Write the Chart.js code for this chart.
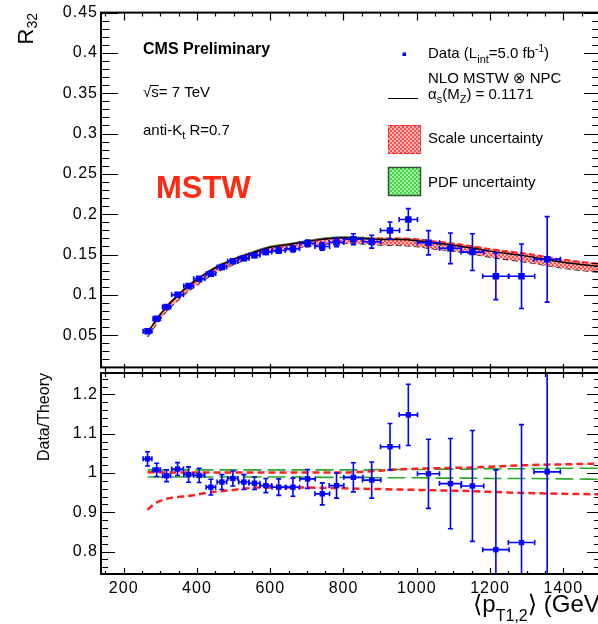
<!DOCTYPE html>
<html>
<head>
<meta charset="utf-8">
<script src="https://cdn.jsdelivr.net/npm/chart.js"></script>
<style>
  html, body { margin: 0; padding: 0; background: #fff; overflow: hidden; width: 598px; height: 624px; }
  canvas { position: absolute; left: 0; }
  #top { top: 0; }
  #bottom { top: 360px; }
</style>
</head>
<body>
<canvas id="top" width="606" height="380"></canvas>
<canvas id="bottom" width="606" height="264"></canvas>
<script>
// Measured R32 points: bin centre, half bin width, value and error
var ptMean = [265, 290, 317, 347, 377, 406, 438, 468, 498, 528, 557, 588, 623, 662, 702, 742, 781, 827, 877, 927, 977, 1032, 1092, 1152, 1216, 1286, 1356];
var ptHalfBin = [12, 10, 11, 16, 13, 15, 13, 13, 14, 14, 15, 16, 18, 18, 21, 20, 20, 26, 25, 26, 25, 30, 30, 31, 36, 36, 36];
var r32 = [0.0549, 0.0704, 0.0850, 0.1000, 0.1110, 0.1200, 0.1260, 0.1345, 0.1415, 0.1455, 0.1490, 0.1530, 0.1550, 0.1570, 0.1638, 0.1600, 0.1650, 0.1690, 0.1659, 0.1797, 0.1935, 0.1646, 0.1577, 0.1530, 0.1230, 0.1230, 0.1440];
var r32Err = [0.0010, 0.0012, 0.0013, 0.0016, 0.0022, 0.0022, 0.0025, 0.0026, 0.0027, 0.0028, 0.0025, 0.0028, 0.0033, 0.0037, 0.0040, 0.0047, 0.0053, 0.0067, 0.0080, 0.0106, 0.0134, 0.0150, 0.0190, 0.0228, 0.0290, 0.0400, 0.0530];
var ratio = [1.036, 1.008, 0.993, 1.010, 0.996, 0.994, 0.964, 0.977, 0.986, 0.977, 0.974, 0.968, 0.964, 0.964, 0.985, 0.947, 0.968, 0.989, 0.982, 1.067, 1.148, 0.998, 0.973, 0.967, 0.805, 0.823, 1.003];
var ratioErr = [0.018, 0.017, 0.015, 0.0165, 0.0195, 0.018, 0.020, 0.019, 0.019, 0.019, 0.016, 0.018, 0.021, 0.023, 0.024, 0.028, 0.032, 0.037, 0.046, 0.059, 0.078, 0.088, 0.115, 0.141, 0.203, 0.300, 0.360];

// NLO MSTW x NPC prediction with scale and PDF bands
var curvePt = [265, 280, 300, 320, 340, 360, 380, 400, 430, 460, 500, 550, 600, 650, 700, 750, 800, 850, 900, 950, 1000, 1050, 1100, 1150, 1200, 1300, 1400, 1503];
var nloCentral = [0.0530, 0.0631, 0.0757, 0.0869, 0.0959, 0.1044, 0.1124, 0.1188, 0.1282, 0.1358, 0.1439, 0.1520, 0.1590, 0.1623, 0.1661, 0.1693, 0.1707, 0.1700, 0.1687, 0.1685, 0.1671, 0.1641, 0.1616, 0.1582, 0.1542, 0.1480, 0.1405, 0.1350];
var scaleUp = [0.0531, 0.0632, 0.0759, 0.0870, 0.0960, 0.1045, 0.1125, 0.1189, 0.1283, 0.1359, 0.1440, 0.1522, 0.1592, 0.1625, 0.1663, 0.1695, 0.1709, 0.1705, 0.1697, 0.1700, 0.1689, 0.1661, 0.1637, 0.1604, 0.1567, 0.1510, 0.1436, 0.1382];
var scaleDown = [0.0480, 0.0580, 0.0703, 0.0813, 0.0900, 0.0981, 0.1059, 0.1123, 0.1218, 0.1294, 0.1377, 0.1462, 0.1531, 0.1563, 0.1600, 0.1629, 0.1640, 0.1632, 0.1618, 0.1614, 0.1599, 0.1569, 0.1543, 0.1509, 0.1468, 0.1405, 0.1331, 0.1277];
var pdfUp = [0.0534, 0.0636, 0.0763, 0.0876, 0.0967, 0.1052, 0.1133, 0.1198, 0.1292, 0.1369, 0.1451, 0.1532, 0.1603, 0.1636, 0.1674, 0.1707, 0.1721, 0.1714, 0.1702, 0.1700, 0.1686, 0.1657, 0.1632, 0.1598, 0.1559, 0.1496, 0.1422, 0.1366];
var pdfDown = [0.0525, 0.0625, 0.0749, 0.0860, 0.0949, 0.1034, 0.1113, 0.1176, 0.1269, 0.1344, 0.1425, 0.1505, 0.1574, 0.1607, 0.1644, 0.1674, 0.1688, 0.1681, 0.1667, 0.1665, 0.1651, 0.1620, 0.1595, 0.1561, 0.1520, 0.1459, 0.1384, 0.1328];

// the same bands relative to the central prediction
var scaleUpRatio = [1.002, 1.002, 1.002, 1.001, 1.001, 1.001, 1.001, 1.001, 1.001, 1.001, 1.001, 1.001, 1.001, 1.001, 1.001, 1.001, 1.001, 1.003, 1.006, 1.009, 1.011, 1.012, 1.013, 1.014, 1.016, 1.020, 1.022, 1.024];
var scaleDownRatio = [0.906, 0.919, 0.929, 0.935, 0.938, 0.940, 0.942, 0.945, 0.950, 0.953, 0.957, 0.962, 0.963, 0.963, 0.963, 0.962, 0.961, 0.960, 0.959, 0.958, 0.957, 0.956, 0.955, 0.954, 0.952, 0.949, 0.947, 0.946];
var pdfUpRatio = [1.008, 1.008, 1.008, 1.008, 1.008, 1.008, 1.008, 1.008, 1.008, 1.008, 1.008, 1.008, 1.008, 1.008, 1.008, 1.008, 1.008, 1.008, 1.009, 1.009, 1.009, 1.010, 1.010, 1.010, 1.011, 1.011, 1.012, 1.012];
var pdfDownRatio = [0.990, 0.990, 0.990, 0.990, 0.990, 0.990, 0.990, 0.990, 0.990, 0.990, 0.990, 0.990, 0.990, 0.990, 0.990, 0.989, 0.989, 0.989, 0.988, 0.988, 0.988, 0.987, 0.987, 0.987, 0.986, 0.986, 0.985, 0.984];

// axis labels
var xTicks = [200, 400, 600, 800, 1000, 1200, 1400];
var yTicksTop = [0.05, 0.1, 0.15, 0.2, 0.25, 0.3, 0.35, 0.4, 0.45];
var yTicksRatio = [0.8, 0.9, 1, 1.1, 1.2];

var FONT = "'Liberation Sans', Arial, Helvetica, 'DejaVu Sans', sans-serif";
var BLUE = '#0000ff';
var RED = '#ff2020';
var GREEN = '#2aa82a';

function pts(xs, ys) {
    return xs.map(function (x, i) { return { x: x, y: ys[i] }; });
}

// 2px checker fill like the ROOT hatch styles
function checker(c1, c2) {
    var c = document.createElement('canvas');
    c.width = 4; c.height = 4;
    var g = c.getContext('2d');
    g.fillStyle = c2; g.fillRect(0, 0, 4, 4);
    g.fillStyle = c1; g.fillRect(0, 0, 2, 2); g.fillRect(2, 2, 2, 2);
    return g.createPattern(c, 'repeat');
}
var redHatch = checker('rgb(255,80,80)', 'rgb(255,185,185)');
var greenHatch = checker('rgb(60,215,60)', 'rgb(175,240,175)');

// text made of runs: [text, size, dy, bold]
function drawRuns(ctx, runs, x, y, align, color) {
    var total = 0;
    runs.forEach(function (r) {
        ctx.font = (r[3] ? 'bold ' : '') + r[1] + 'px ' + FONT;
        r.w = ctx.measureText(r[0]).width;
        total += r.w;
    });
    var cx = align === 'right' ? x - total : x;
    ctx.fillStyle = color || '#000';
    ctx.textAlign = 'left';
    ctx.textBaseline = 'alphabetic';
    runs.forEach(function (r) {
        ctx.font = (r[3] ? 'bold ' : '') + r[1] + 'px ' + FONT;
        ctx.fillText(r[0], cx, y + (r[2] || 0));
        cx += r.w;
    });
    return total;
}

// error bars with small end caps, drawn just before the markers
var errorBars = {
    id: 'errorBars',
    beforeDatasetDraw: function (chart, args) {
        var ds = chart.data.datasets[args.index];
        if (!ds.yErr) return;
        var ctx = chart.ctx, a = chart.chartArea;
        var xs = chart.scales.x, ys = chart.scales.y;
        ctx.save();
        ctx.beginPath();
        ctx.rect(a.left, a.top, a.right - a.left, a.bottom - a.top);
        ctx.clip();
        ctx.strokeStyle = BLUE;
        ctx.lineWidth = 1.6;
        ds.data.forEach(function (p, i) {
            var px = xs.getPixelForValue(p.x), py = ys.getPixelForValue(p.y);
            var x0 = xs.getPixelForValue(p.x - ds.xErr[i]), x1 = xs.getPixelForValue(p.x + ds.xErr[i]);
            var y0 = ys.getPixelForValue(p.y - ds.yErr[i]), y1 = ys.getPixelForValue(p.y + ds.yErr[i]);
            ctx.beginPath();
            ctx.moveTo(x0, py); ctx.lineTo(x1, py);
            ctx.moveTo(px, y0); ctx.lineTo(px, y1);
            ctx.moveTo(x0, py - 2.5); ctx.lineTo(x0, py + 2.5);
            ctx.moveTo(x1, py - 2.5); ctx.lineTo(x1, py + 2.5);
            ctx.moveTo(px - 2.5, y0); ctx.lineTo(px + 2.5, y0);
            ctx.moveTo(px - 2.5, y1); ctx.lineTo(px + 2.5, y1);
            ctx.stroke();
        });
        ctx.restore();
    }
};

// wider tick label spacing
var labelSpacing = {
    id: 'labelSpacing',
    beforeDraw: function (chart) { chart.ctx.letterSpacing = '1px'; },
    afterDraw: function (chart) { chart.ctx.letterSpacing = '0px'; }
};

// frame with inward ticks on all sides
function frame(cfg) {
    return {
        id: 'frame',
        afterDatasetsDraw: function (chart) {
            var ctx = chart.ctx, a = chart.chartArea;
            var xs = chart.scales.x, ys = chart.scales.y;
            var k, v, p, major, len;
            ctx.save();
            ctx.strokeStyle = '#000';
            ctx.lineWidth = 1.2;
            ctx.beginPath();
            for (k = Math.ceil(ys.min / cfg.yMinor - 1e-6); k * cfg.yMinor <= ys.max + 1e-9; k++) {
                v = k * cfg.yMinor;
                p = Math.round(ys.getPixelForValue(v)) + 0.5;
                major = Math.abs(v / cfg.yMajor - Math.round(v / cfg.yMajor)) < 1e-6;
                len = major ? cfg.yLen[0] : cfg.yLen[1];
                ctx.moveTo(a.left, p); ctx.lineTo(a.left + len, p);
                ctx.moveTo(a.right, p); ctx.lineTo(a.right - len, p);
            }
            for (k = Math.ceil(xs.min / cfg.xMinor); k * cfg.xMinor <= xs.max; k++) {
                v = k * cfg.xMinor;
                p = Math.round(xs.getPixelForValue(v)) + 0.5;
                major = v % cfg.xMajor === 0;
                if (cfg.topTicks) {
                    len = major ? cfg.topTicks[0] : cfg.topTicks[1];
                    ctx.moveTo(p, a.top - len[0]); ctx.lineTo(p, a.top + len[1]);
                }
                if (cfg.bottomTicks) {
                    len = major ? cfg.bottomTicks[0] : cfg.bottomTicks[1];
                    ctx.moveTo(p, a.bottom); ctx.lineTo(p, a.bottom - len);
                }
            }
            ctx.stroke();
            ctx.lineWidth = 2;
            ctx.strokeRect(a.left, a.top, a.right - a.left, a.bottom - a.top);
            ctx.restore();
        }
    };
}

var topText = {
    id: 'topText',
    afterDraw: function (chart) {
        var ctx = chart.ctx;
        ctx.save();
        ctx.letterSpacing = '0px';
        drawRuns(ctx, [['CMS Preliminary', 16, 0, true]], 143, 54);
        var w = drawRuns(ctx, [['\u221A', 15]], 143, 97);
        var ws = drawRuns(ctx, [['s', 15]], 143 + w, 97);
        drawRuns(ctx, [['= 7 TeV', 15]], 143 + w + ws, 97);
        ctx.strokeStyle = '#000'; ctx.lineWidth = 1;
        ctx.beginPath(); ctx.moveTo(143 + w - 1, 85.5); ctx.lineTo(143 + w + ws, 85.5); ctx.stroke();
        drawRuns(ctx, [['anti-K', 15], ['t', 11, 4], [' R=0.7', 15]], 143, 135);
        drawRuns(ctx, [['MSTW', 31, 0, true]], 156, 198, 'left', '#ff2a12');

        // legend
        ctx.fillStyle = BLUE;
        ctx.fillRect(402.5, 52.5, 3.5, 3.5);
        drawRuns(ctx, [['Data (L', 15], ['int', 11, 5], ['=5.0 fb', 15], ['-1', 10, -6], [')', 15]], 428, 58);
        drawRuns(ctx, [['NLO MSTW \u2297 NPC', 15]], 428, 83);
        drawRuns(ctx, [['\u03B1', 15], ['s', 11, 4], ['(M', 15], ['Z', 11, 4], [') = 0.1171', 15]], 428, 99);
        ctx.strokeStyle = '#000'; ctx.lineWidth = 1;
        ctx.beginPath(); ctx.moveTo(388, 98.5); ctx.lineTo(418, 98.5); ctx.stroke();

        ctx.fillStyle = redHatch;
        ctx.fillRect(388, 125, 33, 29);
        ctx.setLineDash([4, 2]); ctx.strokeStyle = RED; ctx.lineWidth = 1;
        ctx.strokeRect(388.5, 125.5, 32, 28);
        ctx.setLineDash([]);
        drawRuns(ctx, [['Scale uncertainty', 15]], 428, 143);

        ctx.fillStyle = greenHatch;
        ctx.fillRect(388, 167, 33, 29);
        ctx.strokeStyle = '#2f5a2f'; ctx.lineWidth = 1.5;
        ctx.strokeRect(388.5, 167.5, 32, 28);
        drawRuns(ctx, [['PDF uncertainty', 15]], 428, 187);

        // y title
        ctx.translate(33, 13);
        ctx.rotate(-Math.PI / 2);
        drawRuns(ctx, [['R', 22], ['32', 14, 4]], 0, 0, 'right');
        ctx.restore();
    }
};

var bottomText = {
    id: 'bottomText',
    afterDraw: function (chart) {
        var ctx = chart.ctx;
        ctx.save();
        ctx.letterSpacing = '0px';
        drawRuns(ctx, [['\u27E8p', 24], ['T1,2', 16, 9], ['\u27E9 (GeV)', 24]], 473, 252);
        ctx.translate(49, 13);
        ctx.rotate(-Math.PI / 2);
        drawRuns(ctx, [['Data/Theory', 16]], 0, 0, 'right');
        ctx.restore();
    }
};

function curve(data, color, width, dash, extra) {
    var ds = {
        type: 'line', data: data, borderColor: color, borderWidth: width, borderDash: dash || [],
        pointRadius: 0, fill: false, cubicInterpolationMode: 'monotone'
    };
    for (var k in extra) ds[k] = extra[k];
    return ds;
}

var tickFont = { family: FONT, size: 16 };
function tickLabel(v) { return String(v); }

// upper panel: R32 with the NLO prediction
new Chart(document.getElementById('top'), {
    type: 'scatter',
    data: {
        datasets: [
            curve(pts(curvePt, pdfUp), GREEN, 1, [], { order: 6 }),
            curve(pts(curvePt, pdfDown), GREEN, 1, [], { order: 6 }),
            curve(pts(curvePt, scaleUp), RED, 2, [6, 3], { fill: '+1', backgroundColor: redHatch, order: 4 }),
            curve(pts(curvePt, scaleDown), '#222', 1.5, [6, 3], { order: 4 }),
            curve(pts(curvePt, nloCentral), '#000', 1.5, [], { order: 2 }),
            {
                type: 'scatter', data: pts(ptMean, r32), xErr: ptHalfBin, yErr: r32Err,
                pointStyle: 'rect', pointRadius: 4.6, backgroundColor: BLUE, borderWidth: 0, order: 0
            }
        ]
    },
    options: {
        responsive: false, animation: false, devicePixelRatio: 1,
        layout: { padding: { top: 12, right: 5, bottom: 7, left: 0 } },
        plugins: { legend: { display: false }, tooltip: { enabled: false } },
        scales: {
            x: { type: 'linear', min: 138, max: 1503, display: false },
            y: {
                min: 0.01, max: 0.45,
                grid: { display: false, drawTicks: false }, border: { display: false },
                afterBuildTicks: function (s) { s.ticks = yTicksTop.map(function (v) { return { value: v }; }); },
                afterFit: function (s) { s.width = 101; },
                ticks: { padding: 3, color: '#000', font: tickFont, callback: tickLabel }
            }
        }
    },
    plugins: [labelSpacing, errorBars,
        frame({ yMajor: 0.05, yMinor: 0.01, yLen: [17, 8.5], xMajor: 200, xMinor: 50, topTicks: [[0, 8], [0, 4]] }),
        topText]
});

// lower panel: data over theory
new Chart(document.getElementById('bottom'), {
    type: 'scatter',
    data: {
        datasets: [
            curve(pts(curvePt, pdfUpRatio), GREEN, 1.6, [18, 6], { order: 6 }),
            curve(pts(curvePt, pdfDownRatio), GREEN, 1.6, [18, 6], { order: 6 }),
            curve(pts(curvePt, scaleUpRatio), RED, 2.5, [7, 4], { order: 4 }),
            curve(pts(curvePt, scaleDownRatio), RED, 2.5, [7, 4], { order: 4 }),
            {
                type: 'scatter', data: pts(ptMean, ratio), xErr: ptHalfBin, yErr: ratioErr,
                pointStyle: 'rect', pointRadius: 3.8, backgroundColor: BLUE, borderWidth: 0, order: 0
            }
        ]
    },
    options: {
        responsive: false, animation: false, devicePixelRatio: 1,
        layout: { padding: { top: 13, right: 5, bottom: 0, left: 0 } },
        plugins: { legend: { display: false }, tooltip: { enabled: false } },
        scales: {
            x: {
                type: 'linear', min: 138, max: 1503,
                grid: { display: false, drawTicks: false }, border: { display: false },
                afterBuildTicks: function (s) { s.ticks = xTicks.map(function (v) { return { value: v }; }); },
                afterFit: function (s) { s.height = 50; },
                ticks: { padding: 5, color: '#000', font: tickFont, maxRotation: 0, callback: tickLabel }
            },
            y: {
                min: 0.743, max: 1.2545,
                grid: { display: false, drawTicks: false }, border: { display: false },
                afterBuildTicks: function (s) { s.ticks = yTicksRatio.map(function (v) { return { value: v }; }); },
                afterFit: function (s) { s.width = 101; },
                ticks: { padding: 3, color: '#000', font: tickFont, callback: tickLabel }
            }
        }
    },
    plugins: [labelSpacing, errorBars,
        frame({ yMajor: 0.1, yMinor: 0.02, yLen: [14, 7], xMajor: 200, xMinor: 50, topTicks: [[9, 5], [5, 4]], bottomTicks: [6, 3] }),
        bottomText]
});
</script>
</body>
</html>
